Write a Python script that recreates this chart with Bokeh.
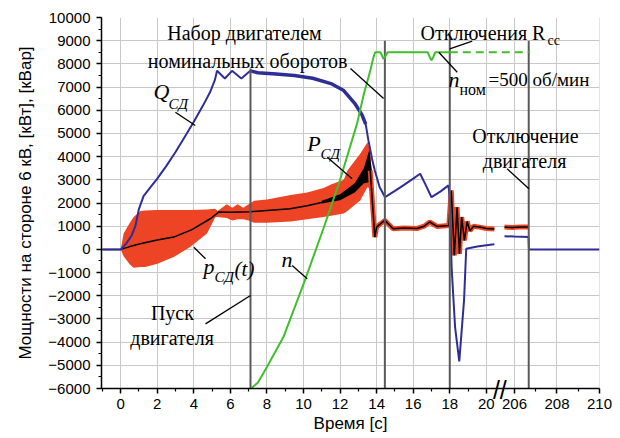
from bokeh.plotting import figure
from bokeh.models import (Range1d, FixedTicker, SingleIntervalTicker, CustomJSTickFormatter, Label,
                          LinearAxis)
from bokeh.embed import file_html
from bokeh.resources import INLINE

# ---------------- data (time in s, power in kW/kVar) ----------------
# Q_СД, left part of the time axis
q_t = [-1, 0, 0.3, 0.6, 0.8, 1.0, 1.25, 1.6, 2.0, 2.5, 3.0, 3.5, 4.0, 4.5, 4.9, 5.15, 5.27,
       5.7, 6.09, 6.6, 7.09, 7.5, 8.5, 9.5, 10.5, 11.5, 12.2, 12.8, 13.2, 13.4, 13.55, 13.75,
       13.9, 14.16, 14.46, 15.0, 15.5, 16.0, 16.38, 16.7, 17.0, 17.5, 17.93, 18.0, 18.1, 18.29,
       18.52, 18.78, 18.9, 19.5, 20.0, 20.44]
q_v = [0, 0, 250, 600, 1000, 1750, 2300, 2650, 3050, 3600, 4200, 4850, 5500, 6200, 6800, 7300, 7700,
       7370, 7700, 7370, 7700, 7620, 7560, 7500, 7380, 7150, 6850, 6300, 5800, 5400, 4700, 3900,
       3400, 2690, 2250, 2520, 2780, 3050, 3260, 2750, 2250, 2500, 2760, 2200, -760, -3350,
       -4830, -2200, 30, 120, 180, 220]
# Q_СД, right part of the time axis
q2_t = [205.53, 206.0, 206.66, 206.68, 207.0, 210.0]
q2_v = [570, 550, 530, 0, 0, 0]

# P_СД mean value
p_t = [-1, 0, 0.5, 1.07, 2.0, 2.9, 3.9, 4.9, 5.36, 6.0, 7.1, 8.0, 9.27, 10.2, 11.1, 12.0, 12.5,
       13.1, 13.5, 13.65, 13.9, 14.0, 14.2, 14.45, 14.9, 15.5, 16.2, 16.6, 16.9, 17.3, 17.95,
       18.08, 18.25, 18.4, 18.53, 18.65, 18.8, 18.95, 19.1, 19.3, 19.7, 20.0, 20.44]
p_v = [0, 0, 120, 245, 400, 530, 850, 1320, 1610, 1600, 1620, 1680, 1750, 1880, 2040, 2250, 2500,
       2970, 3500, 3400, 530, 960, 1100, 1250, 890, 920, 900, 1000, 1180, 990, 1030,
       2540, -260, 1820, -190, 1390, 390, 1200, 800, 1000, 950, 900, 880]
p2_t = [205.53, 205.9, 206.3, 206.66]
p2_v = [960, 940, 970, 960]

# p_СД(t) instantaneous envelope
band_t = [0, 0.16, 0.5, 0.71, 1.08, 1.35, 2.0, 2.9, 3.8, 4.72, 5.17, 5.3, 5.8, 6.1, 6.4, 6.7, 7.0,
          7.3, 8.0, 9.3, 10.2, 11.1, 11.5, 12.2, 12.4, 13.1, 13.5, 13.65, 13.75]
band_hi = [0, 690, 1150, 1400, 1650, 1680, 1700, 1700, 1700, 1720, 1750, 1650, 1950, 1800, 1950,
           1800, 1950, 2100, 2150, 2350, 2450, 2650, 2800, 3000, 3400, 4120, 4620, 4300, 3000]
band_lo = [0, -300, -650, -790, -760, -760, -620, -330, 100, 680, 1390, 1400, 1350, 1250, 1300,
           1300, 1250, 1150, 1150, 1200, 1300, 1400, 1450, 1550, 1650, 2110, 2690, 2600, 2500]

# dense black oscillation of P near the end of the run-up
blk_t = [11.0, 12.0, 12.8, 13.3, 13.6, 13.75]
blk_hi = [2100, 2380, 2850, 3500, 4300, 3300]
blk_lo = [1980, 2120, 2450, 2850, 2900, 2600]

# speed n (scaled to the power axis)
n_t = [7.12, 7.5, 8.0, 8.9, 10.0, 11.09, 12.0, 12.92, 13.3, 13.65, 13.83, 13.92, 14.2, 14.3,
       14.37, 14.45, 14.6, 16.8, 16.9, 17.0, 17.1, 17.2, 18.0]
n_v = [-6000, -5750, -5070, -3780, -1500, 900, 3000, 5400, 6700, 7700, 8300, 8500, 8500, 8350,
       8220, 8300, 8500, 8500, 8300, 8150, 8300, 8500, 8500]
n_dash_t = [18.0, 206.67]
n_dash_v = [8500, 8500]

# event markers
event_t = [7.1, 14.45, 18.0, 206.67]
event_top = [7800, 9000, 9350, 9000]

# tick labels
x_major = [0, 2, 4, 6, 8, 10, 12, 14, 16, 18, 20, 206, 208, 210]
x_minor = [-1, 1, 3, 5, 7, 9, 11, 13, 15, 17, 19, 207, 209]

# ---------------- broken time axis ----------------
U206 = 21.54   # position of 206 s on the compressed axis
K = 1.1625     # scale of the right segment
U_BREAK = 20.74


def xmap(t):
    return t if t < 100 else U206 + (t - 206.0) * K


def xm(ts):
    return [xmap(t) for t in ts]


RED = "#ec4424"
BLUE = "#2e2e96"
GREEN = "#3fbf2c"
EVT = "#5a5a5a"
SERIF = "Liberation Serif"
SANS = "Liberation Sans"

p = figure(width=620, height=438, output_backend="svg", toolbar_location=None,
           x_range=Range1d(-1.05, 26.19), y_range=Range1d(-6000, 10000),
           min_border_left=101, min_border_right=21, min_border_top=17, min_border_bottom=50)
p.outline_line_color = None
p.background_fill_color = "white"

# axes
maj_u = xm(x_major)
p.xaxis.ticker = FixedTicker(ticks=maj_u, minor_ticks=xm(x_minor))
p.xaxis.formatter = CustomJSTickFormatter(args=dict(pos=maj_u, lab=[str(v) for v in x_major]), code="""
let b = 0, d = 1e9;
for (let i = 0; i < pos.length; i++) { const dd = Math.abs(pos[i] - tick); if (dd < d) { d = dd; b = i; } }
return lab[b];
""")
p.yaxis.ticker = SingleIntervalTicker(interval=1000, num_minor_ticks=2)
p.xgrid.ticker = FixedTicker(ticks=maj_u)
p.ygrid.ticker = SingleIntervalTicker(interval=1000)
for g in (p.xgrid, p.ygrid):
    g.grid_line_color = "#c8c8c8"
    g.grid_line_width = 1

for ax in (p.xaxis, p.yaxis):
    ax.axis_line_color = "black"
    ax.axis_line_width = 1.5
    ax.major_tick_line_color = "black"
    ax.minor_tick_line_color = "black"
    ax.major_tick_line_width = 1.5
    ax.minor_tick_line_width = 1.2
    ax.major_tick_in = 0
    ax.major_tick_out = 5
    ax.minor_tick_in = 0
    ax.minor_tick_out = 3
    ax.major_label_text_font = SANS
    ax.major_label_text_font_size = "15px"
    ax.major_label_text_color = "black"
    ax.axis_label_text_font = SANS
    ax.axis_label_text_font_size = "17px"
    ax.axis_label_text_font_style = "normal"
    ax.axis_label_text_color = "black"

p.xaxis.axis_label = "Время [с]"
p.yaxis.axis_label = "Мощности на стороне 6 кВ, [кВт], [кВар]"
p.xaxis.major_label_standoff = 5
p.xaxis.axis_label_standoff = 2
p.yaxis.major_label_standoff = 6
p.yaxis.axis_label_standoff = 10

# ---------------- curves ----------------
p.varea(x=xm(band_t), y1=band_lo, y2=band_hi, color=RED)
p.varea(x=xm(blk_t), y1=blk_lo, y2=blk_hi, color="black")

i0 = p_t.index(13.65)
p.line(xm(p_t[i0:]), p_v[i0:], color=RED, line_width=5)
p.line(xm(p2_t), p2_v, color=RED, line_width=5)
p.line(xm(p_t), p_v, color="black", line_width=1.5)
p.line(xm(p2_t), p2_v, color="black", line_width=1.5)

p.line(xm(q_t), q_v, color=BLUE, line_width=2)
j0, j1 = q_t.index(7.09), q_t.index(13.4)
p.line(xm(q_t[j0:j1 + 1]), q_v[j0:j1 + 1], color=BLUE, line_width=3.5)
p.line(xm(q2_t), q2_v, color=BLUE, line_width=2)

p.segment(x0=xm(event_t), y0=[-6000] * len(event_t), x1=xm(event_t), y1=event_top,
          color=EVT, line_width=2)

p.line(xm(n_t), n_v, color=GREEN, line_width=2)
p.line(xm(n_dash_t), n_dash_v, color=GREEN, line_width=2, line_dash="8 5")

# ---------------- annotations ----------------
leaders = [  # (x0, y0, x1, y1) in axis units
    (12.57, 7800, 14.38, 6507),
    (19.23, 8978, 18.0, 8650),
    (17.40, 8503, 18.41, 7641),
    (21.14, 3474, 22.33, 2612),
    (4.64, -3211, 7.10, -1990),
    (4.0, 93, 4.64, -407),
    (9.38, -696, 10.2, -1270),
    (2.99, 5916, 4.08, 5342),
    (11.30, 3975, 12.66, 3043),
]
p.segment(x0=[a[0] for a in leaders], y0=[a[1] for a in leaders],
          x1=[a[2] for a in leaders], y1=[a[3] for a in leaders], color="black", line_width=1.3)

labels = [  # text, x, y, size, style, align
    ("Набор двигателем", 6.77, 9310, "20px", "normal", "center"),
    ("номинальных оборотов", 6.94, 8145, "20px", "normal", "center"),
    ("Отключения R", 16.40, 9353, "20px", "normal", "left"),
    ("cc", 23.35, 8990, "14px", "normal", "left"),
    ("n", 17.93, 7326, "22px", "italic", "left"),
    ("ном", 18.53, 6900, "16px", "normal", "left"),
    ("=500 об/мин", 20.12, 7326, "19px", "normal", "left"),
    ("Отключение", 22.14, 4911, "20px", "normal", "center"),
    ("двигателя", 22.09, 3832, "20px", "normal", "center"),
    ("Пуск", 2.83, -2723, "20px", "normal", "center"),
    ("двигателя", 2.81, -3802, "20px", "normal", "center"),
    ("p", 4.53, -739, "22px", "italic", "left"),
    ("СД", 5.13, -1171, "15px", "italic", "left"),
    ("(t)", 6.23, -826, "21px", "italic", "left"),
    ("n", 8.80, -431, "22px", "italic", "left"),
    ("Q", 1.79, 6830, "22px", "italic", "left"),
    ("СД", 2.62, 6291, "15px", "italic", "left"),
    ("P", 10.20, 4587, "22px", "italic", "left"),
    ("СД", 10.93, 4134, "15px", "italic", "left"),
]
for txt, x, y, size, style, align in labels:
    p.add_layout(Label(x=x, y=y, text=txt, text_font=SERIF, text_font_size=size,
                       text_font_style=style, text_align=align, text_baseline="middle",
                       text_color="black"))

# axis break mark "//" drawn by a second, label-only axis pulled up onto the time axis
brk = LinearAxis(ticker=FixedTicker(ticks=[U_BREAK], minor_ticks=[]),
                 formatter=CustomJSTickFormatter(code="return '//'"),
                 axis_line_color=None, major_tick_line_color=None, minor_tick_line_color=None,
                 major_tick_out=0, major_tick_in=0, major_label_standoff=-60,
                 major_label_text_font=SANS, major_label_text_font_size="25px",
                 major_label_text_color="black")
p.add_layout(brk, "below")

open("out.html", "w").write(file_html(p, INLINE))
